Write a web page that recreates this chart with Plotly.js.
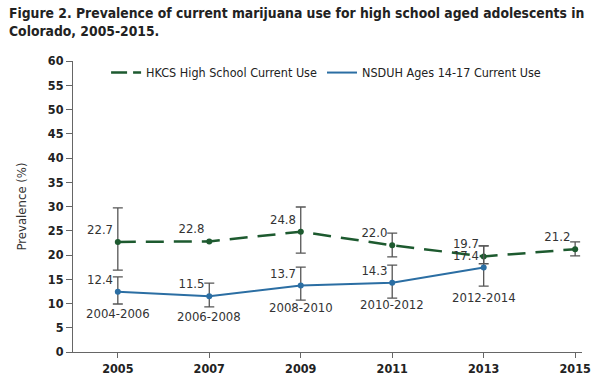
<!DOCTYPE html>
<html><head><meta charset="utf-8">
<script src="https://cdn.plot.ly/plotly-3.0.1.min.js"></script>
<style>body{margin:0;background:#fff}#c{width:599px;height:378px}</style>
</head><body><div id="c"></div>
<script>
const years = [2005, 2007, 2009, 2011, 2013, 2015];
const hkcs = [22.7, 22.8, 24.8, 22.0, 19.7, 21.2];
const hkcsErrPlus = [7.0, 0, 5.1, 2.5, 2.2, 1.5];
const hkcsErrMinus = [5.8, 0, 4.4, 2.4, 1.5, 1.4];
const nsduhYears = [2005, 2007, 2009, 2011, 2013];
const nsduh = [12.4, 11.5, 13.7, 14.3, 17.4];
const nsduhErrPlus = [3.1, 2.7, 3.8, 3.6, 4.5];
const nsduhErrMinus = [2.5, 2.2, 3.0, 3.2, 3.8];
const periods = ['2004-2006', '2006-2008', '2008-2010', '2010-2012', '2012-2014'];
const periodShift = [-22, -20, -22, -22, -30];
const seriesNames = ['HKCS High School Current Use', 'NSDUH Ages 14-17 Current Use'];
const titleText = 'Figure 2. Prevalence of current marijuana use for high school aged adolescents in<br>Colorado, 2005-2015.';

const green = '#1d5a2f', blue = '#2b6ea3', errC = '#555555';
const FF = 'DejaVu Sans Condensed, DejaVu Sans, sans-serif';
const labelFont = {family: FF, size: 13, color: '#333'};
const hkcsLine = {color: green, width: 2.5, dash: '18px,10px'};
const nsduhLine = {color: blue, width: 2};

const traces = [
  {x: years, y: hkcs, name: seriesNames[0], type: 'scatter', mode: 'lines+markers+text', showlegend: false,
   line: hkcsLine, marker: {color: green, size: 6},
   text: hkcs.map(v => v.toFixed(1)), textposition: 'top left', textfont: labelFont,
   error_y: {type: 'data', symmetric: false, array: hkcsErrPlus, arrayminus: hkcsErrMinus, color: errC, thickness: 1.3, width: 5}},
  {x: nsduhYears, y: nsduh, name: seriesNames[1], type: 'scatter', mode: 'lines+markers+text', showlegend: false,
   line: nsduhLine, marker: {color: blue, size: 6},
   text: nsduh.map(v => v.toFixed(1)), textposition: 'top left', textfont: labelFont,
   error_y: {type: 'data', symmetric: false, array: nsduhErrPlus, arrayminus: nsduhErrMinus, color: errC, thickness: 1.3, width: 5}},
  {x: [null], y: [null], name: seriesNames[0], type: 'scatter', mode: 'lines', line: {color: green, width: 2.5, dash: '16px,6px'}},
  {x: [null], y: [null], name: seriesNames[1], type: 'scatter', mode: 'lines', line: nsduhLine}
];

const annotations = nsduhYears.map((yr, i) => ({
  x: yr, y: nsduh[i], text: periods[i], showarrow: false, yshift: periodShift[i], font: labelFont
}));
annotations.push({xref: 'paper', yref: 'paper', x: -0.13, y: 1.2, xanchor: 'left', yanchor: 'top', align: 'left',
  showarrow: false, text: titleText, font: {family: FF, size: 13.8, color: '#222', weight: 'bold'}});

const axisFont = {family: FF, size: 12.5, color: '#222', weight: 'bold'};

const layout = {
  width: 599, height: 378,
  margin: {l: 73, r: 17, t: 61, b: 26},
  paper_bgcolor: '#fff', plot_bgcolor: '#fff',
  xaxis: {range: [2004.02, 2015.15], tickvals: years, ticks: 'outside', ticklen: 5, tickcolor: '#666',
    showline: true, linecolor: '#666', linewidth: 1, showgrid: false, zeroline: false, tickfont: axisFont},
  yaxis: {range: [0, 60], dtick: 5, ticks: 'outside', ticklen: 6, tickcolor: '#666',
    showline: true, linecolor: '#666', linewidth: 1, showgrid: false, zeroline: false, tickfont: axisFont,
    title: {text: 'Prevalence (%)', standoff: 18, font: {family: FF, size: 13, color: '#333'}}},
  legend: {orientation: 'h', x: 0.065, y: 0.959, xanchor: 'left', yanchor: 'middle', bgcolor: 'rgba(0,0,0,0)',
    font: {family: FF, size: 12.5, color: '#222'}, itemclick: false, tracegroupgap: 0},
  showlegend: true,
  annotations: annotations
};

Plotly.newPlot('c', traces, layout, {displayModeBar: false, staticPlot: true});
</script></body></html>
